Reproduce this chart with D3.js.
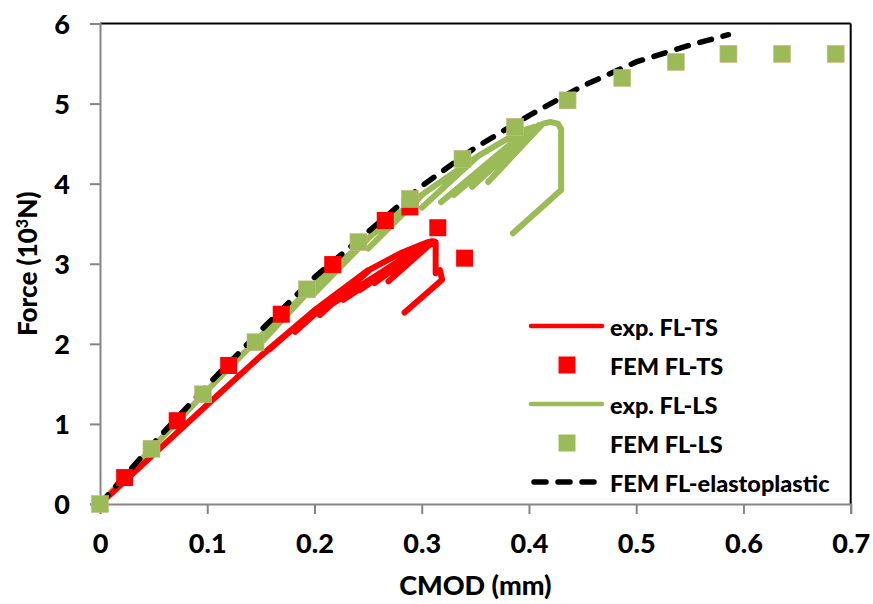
<!DOCTYPE html>
<html>
<head>
<meta charset="utf-8">
<script src="https://cdn.jsdelivr.net/npm/d3@7"></script>
<style>
  html, body { margin: 0; padding: 0; background: #fff; }
  svg { display: block; font-family: Lato, "Open Sans", sans-serif; font-weight: bold; }
</style>
</head>
<body>
<svg id="chart" width="873" height="604"></svg>
<script>
// ---------- data ----------
const xTicks = [0, 0.1, 0.2, 0.3, 0.4, 0.5, 0.6, 0.7];
const yTicks = [0, 1, 2, 3, 4, 5, 6];

// experimental FL-TS (red line, cyclic loading / unloading)
const expTS_x = [0, 0.05, 0.1, 0.15, 0.2, 0.158, 0.202, 0.225, 0.182, 0.227, 0.25, 0.205, 0.252, 0.28, 0.3,
                 0.306, 0.212, 0.307, 0.227, 0.308, 0.242, 0.309, 0.256, 0.31, 0.269, 0.311,
                 0.313, 0.313, 0.317, 0.318, 0.319, 0.284];
const expTS_y = [0, 0.62, 1.24, 1.85, 2.42, 1.93, 2.44, 2.67, 2.15, 2.69, 2.92, 2.36, 2.93, 3.13, 3.24,
                 3.27, 2.46, 3.27, 2.55, 3.275, 2.67, 3.28, 2.76, 3.28, 2.78, 3.28,
                 3.27, 2.88, 2.92, 2.86, 2.8, 2.39];

// FEM FL-TS (red squares)
const femTS_x = [0.023, 0.072, 0.120, 0.169, 0.217, 0.266, 0.289, 0.315, 0.340];
const femTS_y = [0.33, 1.04, 1.73, 2.37, 2.99, 3.54, 3.71, 3.45, 3.07];

// experimental FL-LS (green line, cyclic loading / unloading)
const expLS_x = [0, 0.05, 0.1, 0.15, 0.2, 0.152, 0.202, 0.25, 0.2, 0.252, 0.3, 0.25, 0.302, 0.35, 0.3, 0.352,
                 0.39, 0.4, 0.318, 0.403, 0.33, 0.405, 0.347, 0.409, 0.362, 0.413,
                 0.42, 0.427, 0.43, 0.43, 0.385];
const expLS_y = [0, 0.72, 1.42, 2.1, 2.74, 2.04, 2.76, 3.32, 2.63, 3.34, 3.86, 3.19, 3.88, 4.32, 3.7, 4.34,
                 4.64, 4.69, 3.77, 4.7, 3.86, 4.71, 3.96, 4.73, 4.02, 4.75,
                 4.77, 4.75, 4.68, 3.92, 3.38];

// FEM FL-LS (green squares)
const femLS_x = [0, 0.048, 0.096, 0.145, 0.193, 0.241, 0.289, 0.338, 0.387, 0.436, 0.487, 0.537, 0.586, 0.636, 0.686];
const femLS_y = [0, 0.69, 1.37, 2.02, 2.68, 3.27, 3.81, 4.31, 4.71, 5.04, 5.32, 5.52, 5.62, 5.62, 5.62];

// FEM FL-elastoplastic (black dashed)
const elasto_x = [0, 0.05, 0.1, 0.15, 0.2, 0.25, 0.3, 0.35, 0.4, 0.45, 0.5, 0.55, 0.586];
const elasto_y = [0, 0.76, 1.48, 2.17, 2.83, 3.4, 3.97, 4.45, 4.85, 5.22, 5.52, 5.73, 5.86];

const legendLabels = ["exp. FL-TS", "FEM FL-TS", "exp. FL-LS", "FEM FL-LS", "FEM FL-elastoplastic"];

const RED = "#FF0000", GREEN = "#9BBB59", AXIS = "#868686";

// ---------- scales ----------
const svg = d3.select("#chart");
const x = d3.scaleLinear().domain([0, 0.7]).range([100, 850.7]);
const y = d3.scaleLinear().domain([0, 6]).range([504, 23.5]);

const zip = (xs, ys) => xs.map((v, i) => [v, ys[i]]);
const line = d3.line().x(d => x(d[0])).y(d => y(d[1]));

// ---------- frame ----------
svg.append("line").attr("x1", x(0)).attr("x2", x(0.7)).attr("y1", y(6)).attr("y2", y(6))
  .attr("stroke", "#000").attr("stroke-width", 2);
svg.append("line").attr("x1", x(0.7)).attr("x2", x(0.7)).attr("y1", y(6)).attr("y2", y(0))
  .attr("stroke", "#000").attr("stroke-width", 2);

// ---------- axes ----------
const gx = svg.append("g").attr("transform", `translate(0,${y(0)})`)
  .call(d3.axisBottom(x).tickValues(xTicks).tickSize(10).tickPadding(20).tickFormat(d => d === 0 ? "0" : d3.format(".1f")(d)));
const gy = svg.append("g").attr("transform", `translate(${x(0)},0)`)
  .call(d3.axisLeft(y).tickValues(yTicks).tickSize(10).tickPadding(20).tickFormat(d3.format("d")));
[gx, gy].forEach(g => {
  g.select(".domain").attr("stroke", AXIS).attr("stroke-width", 2);
  g.selectAll(".tick line").attr("stroke", AXIS).attr("stroke-width", 2);
  g.selectAll(".tick text").attr("fill", "#000").attr("font-size", 27)
    .attr("font-family", "Lato, 'Open Sans', sans-serif").attr("font-weight", "900");
});
gy.selectAll(".tick text").attr("dy", "0.36em");

// ---------- series ----------
svg.append("path").datum(zip(expLS_x, expLS_y)).attr("d", line)
  .attr("fill", "none").attr("stroke", GREEN).attr("stroke-width", 6)
  .attr("stroke-linejoin", "round").attr("stroke-linecap", "round");
svg.append("path").datum(zip(expTS_x, expTS_y)).attr("d", line)
  .attr("fill", "none").attr("stroke", RED).attr("stroke-width", 6)
  .attr("stroke-linejoin", "round").attr("stroke-linecap", "round");
svg.append("path").datum(zip(elasto_x, elasto_y)).attr("d", line)
  .attr("fill", "none").attr("stroke", "#000").attr("stroke-width", 5.5)
  .attr("stroke-dasharray", "12 12").attr("stroke-linecap", "round");

const S = 17;
svg.append("g").selectAll("rect").data(zip(femTS_x, femTS_y)).join("rect")
  .attr("x", d => x(d[0]) - S / 2).attr("y", d => y(d[1]) - S / 2)
  .attr("width", S).attr("height", S).attr("fill", RED);
svg.append("g").selectAll("rect").data(zip(femLS_x, femLS_y)).join("rect")
  .attr("x", d => x(d[0]) - S / 2).attr("y", d => y(d[1]) - S / 2)
  .attr("width", S).attr("height", S).attr("fill", GREEN)
  .attr("stroke", "#d4b48a").attr("stroke-width", 0.6);

// ---------- axis titles ----------
svg.append("text").attr("x", (x(0) + x(0.7)) / 2).attr("y", 595)
  .attr("text-anchor", "middle").attr("font-size", 27).attr("font-weight", "900").text("CMOD (mm)");
const yt = svg.append("text").attr("transform", `translate(37,${(y(0) + y(6)) / 2}) rotate(-90)`)
  .attr("text-anchor", "middle").attr("font-size", 26).attr("font-weight", "900");
yt.append("tspan").text("Force (10");
yt.append("tspan").attr("font-size", 16).attr("dy", -9).text("3");
yt.append("tspan").attr("dy", 9).text("N)");

// ---------- legend ----------
const lg = svg.append("g");
const ly = [326, 365, 404, 443, 482];
lg.append("line").attr("x1", 531).attr("x2", 602).attr("y1", ly[0]).attr("y2", ly[0])
  .attr("stroke", RED).attr("stroke-width", 4.5).attr("stroke-linecap", "round");
lg.append("rect").attr("x", 567 - 8.5).attr("y", ly[1] - 8.5).attr("width", 17).attr("height", 17).attr("fill", RED);
lg.append("line").attr("x1", 531).attr("x2", 602).attr("y1", ly[2]).attr("y2", ly[2])
  .attr("stroke", GREEN).attr("stroke-width", 4.5).attr("stroke-linecap", "round");
lg.append("rect").attr("x", 567 - 8.5).attr("y", ly[3] - 8.5).attr("width", 17).attr("height", 17).attr("fill", GREEN);
lg.append("line").attr("x1", 534).attr("x2", 600).attr("y1", ly[4]).attr("y2", ly[4])
  .attr("stroke", "#000").attr("stroke-width", 5.5).attr("stroke-dasharray", "12 12").attr("stroke-linecap", "round");
lg.selectAll("text").data(legendLabels).join("text")
  .attr("x", 610).attr("y", (d, i) => ly[i] + 1.5).attr("dy", "0.36em")
  .attr("font-size", 23.5).attr("font-weight", "900").attr("fill", "#000").text(d => d);
</script>
</body>
</html>
